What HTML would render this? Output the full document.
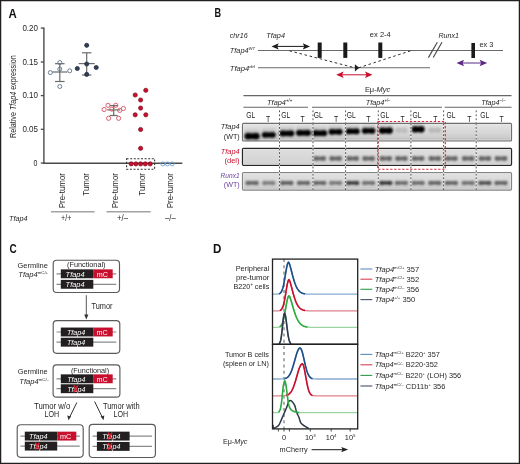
<!DOCTYPE html>
<html><head><meta charset="utf-8"><style>
html,body{margin:0;padding:0;background:#fff;}
svg{display:block;font-family:"Liberation Sans", sans-serif;will-change:transform;}
</style></head><body>
<svg width="520" height="464" viewBox="0 0 520 464" font-family='"Liberation Sans", sans-serif'>
<rect width="520" height="464" fill="#fff"/>
<text x="8.6" y="17.6" font-size="12" text-anchor="start" fill="#111" font-weight="bold" textLength="8.3" lengthAdjust="spacingAndGlyphs">A</text>
<line x1="43.9" y1="27.4" x2="43.9" y2="163.9" stroke="#4a4a4a" stroke-width="1.4"/>
<line x1="43.2" y1="163.3" x2="182.3" y2="163.3" stroke="#4a4a4a" stroke-width="1.6"/>
<line x1="40.8" y1="28.1" x2="43.9" y2="28.1" stroke="#4a4a4a" stroke-width="1.3"/>
<text x="38.0" y="30.6" font-size="8.4" text-anchor="end" fill="#262626" textLength="15.6" lengthAdjust="spacingAndGlyphs">0.20</text>
<line x1="40.8" y1="62.0" x2="43.9" y2="62.0" stroke="#4a4a4a" stroke-width="1.3"/>
<text x="38.0" y="64.5" font-size="8.4" text-anchor="end" fill="#262626" textLength="15.6" lengthAdjust="spacingAndGlyphs">0.15</text>
<line x1="40.8" y1="95.6" x2="43.9" y2="95.6" stroke="#4a4a4a" stroke-width="1.3"/>
<text x="38.0" y="98.1" font-size="8.4" text-anchor="end" fill="#262626" textLength="15.6" lengthAdjust="spacingAndGlyphs">0.10</text>
<line x1="40.8" y1="129.3" x2="43.9" y2="129.3" stroke="#4a4a4a" stroke-width="1.3"/>
<text x="38.0" y="131.8" font-size="8.4" text-anchor="end" fill="#262626" textLength="15.6" lengthAdjust="spacingAndGlyphs">0.05</text>
<line x1="40.8" y1="163.0" x2="43.9" y2="163.0" stroke="#4a4a4a" stroke-width="1.3"/>
<text x="37.3" y="165.5" font-size="8.4" text-anchor="end" fill="#262626" textLength="3.9" lengthAdjust="spacingAndGlyphs">0</text>
<text transform="translate(16.4,96.6) rotate(-90)" font-size="9.4" text-anchor="middle" fill="#262626" textLength="82.6" lengthAdjust="spacingAndGlyphs">Relative <tspan font-style="italic">Tfap4</tspan> expression</text>
<text transform="translate(65.4,173.0) rotate(-90)" font-size="8.6" text-anchor="end" fill="#262626" textLength="35.3" lengthAdjust="spacingAndGlyphs">Pre-tumor</text>
<text transform="translate(89.3,173.0) rotate(-90)" font-size="8.6" text-anchor="end" fill="#262626" textLength="22.7" lengthAdjust="spacingAndGlyphs">Tumor</text>
<text transform="translate(117.7,173.0) rotate(-90)" font-size="8.6" text-anchor="end" fill="#262626" textLength="35.3" lengthAdjust="spacingAndGlyphs">Pre-tumor</text>
<text transform="translate(144.7,173.0) rotate(-90)" font-size="8.6" text-anchor="end" fill="#262626" textLength="22.7" lengthAdjust="spacingAndGlyphs">Tumor</text>
<text transform="translate(173.3,173.0) rotate(-90)" font-size="8.6" text-anchor="end" fill="#262626" textLength="35.3" lengthAdjust="spacingAndGlyphs">Pre-tumor</text>
<line x1="51" y1="211.8" x2="94.6" y2="211.8" stroke="#a3a3a3" stroke-width="1.5"/>
<line x1="106.5" y1="211.8" x2="150.7" y2="211.8" stroke="#a3a3a3" stroke-width="1.5"/>
<text x="61" y="221.4" font-size="9" text-anchor="start" fill="#262626" textLength="10.3" lengthAdjust="spacingAndGlyphs">+/+</text>
<text x="117" y="221.4" font-size="9" text-anchor="start" fill="#262626" textLength="11" lengthAdjust="spacingAndGlyphs">+/&#8211;</text>
<text x="165" y="221.4" font-size="9" text-anchor="start" fill="#262626" textLength="10.7" lengthAdjust="spacingAndGlyphs">&#8211;/&#8211;</text>
<text x="9" y="221.2" font-size="8" text-anchor="start" fill="#262626" font-style="italic" textLength="18.6" lengthAdjust="spacingAndGlyphs">Tfap4</text>
<line x1="59.8" y1="63.7" x2="59.8" y2="81.5" stroke="#6b6b6b" stroke-width="1.2"/>
<line x1="55.0" y1="63.7" x2="64.6" y2="63.7" stroke="#6b6b6b" stroke-width="1.2"/>
<line x1="55.0" y1="81.5" x2="64.6" y2="81.5" stroke="#6b6b6b" stroke-width="1.2"/>
<line x1="52.3" y1="72.0" x2="67.3" y2="72.0" stroke="#6b6b6b" stroke-width="1.2"/>
<circle cx="59.8" cy="62.5" r="2.0" fill="none" stroke="#5d7089" stroke-width="0.9"/>
<circle cx="59.8" cy="69.1" r="2.0" fill="none" stroke="#5d7089" stroke-width="0.9"/>
<circle cx="50.3" cy="72.6" r="2.0" fill="none" stroke="#5d7089" stroke-width="0.9"/>
<circle cx="69.7" cy="70.8" r="2.0" fill="none" stroke="#5d7089" stroke-width="0.9"/>
<circle cx="59.8" cy="86.5" r="2.0" fill="none" stroke="#5d7089" stroke-width="0.9"/>
<line x1="86.7" y1="52.8" x2="86.7" y2="75.0" stroke="#6b6b6b" stroke-width="1.2"/>
<line x1="81.95" y1="52.8" x2="91.45" y2="52.8" stroke="#6b6b6b" stroke-width="1.2"/>
<line x1="81.95" y1="75.0" x2="91.45" y2="75.0" stroke="#6b6b6b" stroke-width="1.2"/>
<line x1="78.7" y1="63.6" x2="94.7" y2="63.6" stroke="#6b6b6b" stroke-width="1.2"/>
<circle cx="86.7" cy="45.3" r="2.1" fill="#2f3f57" stroke="#1c2636" stroke-width="0.7"/>
<circle cx="86.7" cy="64.0" r="2.1" fill="#2f3f57" stroke="#1c2636" stroke-width="0.7"/>
<circle cx="77.3" cy="68.5" r="2.1" fill="#2f3f57" stroke="#1c2636" stroke-width="0.7"/>
<circle cx="96.2" cy="67.5" r="2.1" fill="#2f3f57" stroke="#1c2636" stroke-width="0.7"/>
<circle cx="86.7" cy="74.4" r="2.1" fill="#2f3f57" stroke="#1c2636" stroke-width="0.7"/>
<line x1="113.7" y1="105.6" x2="113.7" y2="115.5" stroke="#6b6b6b" stroke-width="1.2"/>
<line x1="109.7" y1="105.6" x2="117.7" y2="105.6" stroke="#6b6b6b" stroke-width="1.2"/>
<line x1="109.7" y1="115.5" x2="117.7" y2="115.5" stroke="#6b6b6b" stroke-width="1.2"/>
<line x1="107.2" y1="109.9" x2="120.2" y2="109.9" stroke="#6b6b6b" stroke-width="1.2"/>
<circle cx="108" cy="105.3" r="2.1" fill="none" stroke="#d9505e" stroke-width="0.9"/>
<circle cx="115.8" cy="105.3" r="2.1" fill="none" stroke="#d9505e" stroke-width="0.9"/>
<circle cx="104.1" cy="109.5" r="2.1" fill="none" stroke="#d9505e" stroke-width="0.9"/>
<circle cx="111.8" cy="109.1" r="2.1" fill="none" stroke="#d9505e" stroke-width="0.9"/>
<circle cx="119.7" cy="110.4" r="2.1" fill="none" stroke="#d9505e" stroke-width="0.9"/>
<circle cx="123.4" cy="108.5" r="2.1" fill="none" stroke="#d9505e" stroke-width="0.9"/>
<circle cx="108.6" cy="118.3" r="2.1" fill="none" stroke="#d9505e" stroke-width="0.9"/>
<circle cx="118.6" cy="118.3" r="2.1" fill="none" stroke="#d9505e" stroke-width="0.9"/>
<circle cx="145.8" cy="90.3" r="2.1" fill="#c8102e" stroke="#7d0a1c" stroke-width="0.7"/>
<circle cx="135.2" cy="95" r="2.1" fill="#c8102e" stroke="#7d0a1c" stroke-width="0.7"/>
<circle cx="140.6" cy="100" r="2.1" fill="#c8102e" stroke="#7d0a1c" stroke-width="0.7"/>
<circle cx="140.6" cy="108.1" r="2.1" fill="#c8102e" stroke="#7d0a1c" stroke-width="0.7"/>
<circle cx="135.2" cy="114.8" r="2.1" fill="#c8102e" stroke="#7d0a1c" stroke-width="0.7"/>
<circle cx="145.8" cy="114.8" r="2.1" fill="#c8102e" stroke="#7d0a1c" stroke-width="0.7"/>
<circle cx="140.6" cy="129.5" r="2.1" fill="#c8102e" stroke="#7d0a1c" stroke-width="0.7"/>
<circle cx="140.6" cy="148.3" r="2.1" fill="#c8102e" stroke="#7d0a1c" stroke-width="0.7"/>
<circle cx="131.2" cy="163.9" r="2.1" fill="#c8102e" stroke="#7d0a1c" stroke-width="0.7"/>
<circle cx="135.9" cy="163.9" r="2.1" fill="#c8102e" stroke="#7d0a1c" stroke-width="0.7"/>
<circle cx="140.6" cy="163.9" r="2.1" fill="#c8102e" stroke="#7d0a1c" stroke-width="0.7"/>
<circle cx="145.3" cy="163.9" r="2.1" fill="#c8102e" stroke="#7d0a1c" stroke-width="0.7"/>
<circle cx="150.2" cy="163.9" r="2.1" fill="#c8102e" stroke="#7d0a1c" stroke-width="0.7"/>
<rect x="126.6" y="158.7" width="28" height="10.5" fill="none" stroke="#333" stroke-width="1.1" stroke-dasharray="2,1.6"/>
<circle cx="162.8" cy="163.9" r="2.0" fill="none" stroke="#6b9fd1" stroke-width="0.9"/>
<circle cx="167.4" cy="163.9" r="2.0" fill="none" stroke="#6b9fd1" stroke-width="0.9"/>
<circle cx="172.2" cy="163.9" r="2.0" fill="none" stroke="#6b9fd1" stroke-width="0.9"/>
<text x="214.6" y="17.4" font-size="12" text-anchor="start" fill="#111" font-weight="bold" textLength="6.6" lengthAdjust="spacingAndGlyphs">B</text>
<text x="229.8" y="37.6" font-size="7.3" text-anchor="start" fill="#262626" font-style="italic" textLength="17.9" lengthAdjust="spacingAndGlyphs">chr16</text>
<text x="266.3" y="37.6" font-size="7.3" text-anchor="start" fill="#262626" font-style="italic" textLength="18.7" lengthAdjust="spacingAndGlyphs">Tfap4</text>
<text x="229.8" y="52.6" font-size="7.6" font-style="italic" fill="#262626" textLength="25.4" lengthAdjust="spacingAndGlyphs">Tfap4<tspan font-size="4.4" dy="-2.9">WT</tspan></text>
<text x="229.8" y="70.8" font-size="7.6" font-style="italic" fill="#262626" textLength="25.2" lengthAdjust="spacingAndGlyphs">Tfap4<tspan font-size="4.4" dy="-2.9">del</tspan></text>
<line x1="258" y1="50.5" x2="503" y2="50.5" stroke="#6a6a6a" stroke-width="1.1"/>
<line x1="258" y1="67.8" x2="430" y2="67.8" stroke="#6a6a6a" stroke-width="1.1"/>
<line x1="428.4" y1="57.6" x2="437.3" y2="42.3" stroke="#444" stroke-width="1.1"/>
<line x1="433.2" y1="57.6" x2="442.0" y2="42.3" stroke="#444" stroke-width="1.1"/>
<rect x="317.7" y="42.5" width="4" height="15.4" fill="#1a1a1a" stroke="none" stroke-width="1"/>
<rect x="343.3" y="42.5" width="4" height="15.4" fill="#1a1a1a" stroke="none" stroke-width="1"/>
<rect x="378.3" y="42.5" width="4" height="15.4" fill="#1a1a1a" stroke="none" stroke-width="1"/>
<rect x="471.4" y="43" width="3.6" height="15" fill="#1a1a1a" stroke="none" stroke-width="1"/>
<line x1="273.5" y1="46.4" x2="308.0" y2="46.4" stroke="#1a1a1a" stroke-width="1.0"/>
<path d="M271.5,46.4 L278.7,43.3 L277.26,46.4 L278.7,49.5 Z" fill="#1a1a1a"/>
<path d="M310.0,46.4 L302.8,43.3 L304.24,46.4 L302.8,49.5 Z" fill="#1a1a1a"/>
<line x1="338.2" y1="74.8" x2="370.4" y2="74.8" stroke="#c8102e" stroke-width="1.0"/>
<path d="M336.2,74.8 L343.59999999999997,71.6 L342.12,74.8 L343.59999999999997,78.0 Z" fill="#c8102e"/>
<path d="M372.4,74.8 L365.0,71.6 L366.47999999999996,74.8 L365.0,78.0 Z" fill="#c8102e"/>
<line x1="458.5" y1="63" x2="485.2" y2="63" stroke="#5b2a86" stroke-width="1.0"/>
<path d="M456.5,63 L464.1,59.7 L462.58,63 L464.1,66.3 Z" fill="#5b2a86"/>
<path d="M487.2,63 L479.59999999999997,59.7 L481.12,63 L479.59999999999997,66.3 Z" fill="#5b2a86"/>
<line x1="289.4" y1="50.8" x2="354.9" y2="67.8" stroke="#333" stroke-width="1.0" stroke-dasharray="2.6,2.6"/>
<line x1="358.6" y1="67.8" x2="410.6" y2="50.8" stroke="#333" stroke-width="1.0" stroke-dasharray="2.6,2.6"/>
<path d="M354.9,64.2 L359.3,67.8 L354.9,71.4 Z" fill="#222"/>
<text x="369.8" y="37.2" font-size="7.3" text-anchor="start" fill="#262626" textLength="21" lengthAdjust="spacingAndGlyphs">ex 2-4</text>
<text x="438.5" y="38.2" font-size="7.4" text-anchor="start" fill="#262626" font-style="italic" textLength="20.5" lengthAdjust="spacingAndGlyphs">Runx1</text>
<text x="479.4" y="46.5" font-size="7.3" text-anchor="start" fill="#262626" textLength="13.8" lengthAdjust="spacingAndGlyphs">ex 3</text>
<text x="364.9" y="92.2" font-size="7.4" text-anchor="start" fill="#262626" textLength="25.4" lengthAdjust="spacingAndGlyphs">E&#956;-<tspan font-style="italic">Myc</tspan></text>
<line x1="243.4" y1="95.6" x2="511.5" y2="95.6" stroke="#666" stroke-width="1.1"/>
<text x="267.1" y="104.6" font-size="7.8" font-style="italic" fill="#262626" textLength="25.2" lengthAdjust="spacingAndGlyphs">Tfap4<tspan font-size="4.6" dy="-3" font-style="normal">+/+</tspan></text>
<text x="365.8" y="104.6" font-size="7.8" font-style="italic" fill="#262626" textLength="24.7" lengthAdjust="spacingAndGlyphs">Tfap4<tspan font-size="4.6" dy="-3" font-style="normal">+/&#8211;</tspan></text>
<text x="481.2" y="104.6" font-size="7.8" font-style="italic" fill="#262626" textLength="24.3" lengthAdjust="spacingAndGlyphs">Tfap4<tspan font-size="4.6" dy="-3" font-style="normal">&#8211;/&#8211;</tspan></text>
<line x1="243.4" y1="107.2" x2="308" y2="107.2" stroke="#666" stroke-width="1.1"/>
<line x1="312" y1="107.2" x2="442" y2="107.2" stroke="#666" stroke-width="1.1"/>
<line x1="444.7" y1="107.2" x2="511.5" y2="107.2" stroke="#666" stroke-width="1.1"/>
<text x="246.2" y="118.4" font-size="9.0" text-anchor="start" fill="#262626" textLength="9.0" lengthAdjust="spacingAndGlyphs">GL</text>
<text x="281.2" y="118.4" font-size="9.0" text-anchor="start" fill="#262626" textLength="9.0" lengthAdjust="spacingAndGlyphs">GL</text>
<text x="313.8" y="118.4" font-size="9.0" text-anchor="start" fill="#262626" textLength="9.0" lengthAdjust="spacingAndGlyphs">GL</text>
<text x="346.7" y="118.4" font-size="9.0" text-anchor="start" fill="#262626" textLength="9.0" lengthAdjust="spacingAndGlyphs">GL</text>
<text x="380.2" y="118.4" font-size="9.0" text-anchor="start" fill="#262626" textLength="9.0" lengthAdjust="spacingAndGlyphs">GL</text>
<text x="412.5" y="118.4" font-size="9.0" text-anchor="start" fill="#262626" textLength="9.0" lengthAdjust="spacingAndGlyphs">GL</text>
<text x="446.5" y="118.4" font-size="9.0" text-anchor="start" fill="#262626" textLength="9.0" lengthAdjust="spacingAndGlyphs">GL</text>
<text x="480.2" y="118.4" font-size="9.0" text-anchor="start" fill="#262626" textLength="9.0" lengthAdjust="spacingAndGlyphs">GL</text>
<text x="266" y="121.6" font-size="8.6" text-anchor="start" fill="#262626" textLength="4.2" lengthAdjust="spacingAndGlyphs">T</text>
<text x="300.5" y="121.6" font-size="8.6" text-anchor="start" fill="#262626" textLength="4.2" lengthAdjust="spacingAndGlyphs">T</text>
<text x="334" y="121.6" font-size="8.6" text-anchor="start" fill="#262626" textLength="4.2" lengthAdjust="spacingAndGlyphs">T</text>
<text x="366.3" y="121.6" font-size="8.6" text-anchor="start" fill="#262626" textLength="4.2" lengthAdjust="spacingAndGlyphs">T</text>
<text x="400.4" y="121.6" font-size="8.6" text-anchor="start" fill="#262626" textLength="4.2" lengthAdjust="spacingAndGlyphs">T</text>
<text x="433.3" y="121.6" font-size="8.6" text-anchor="start" fill="#262626" textLength="4.2" lengthAdjust="spacingAndGlyphs">T</text>
<text x="467.2" y="121.6" font-size="8.6" text-anchor="start" fill="#262626" textLength="4.2" lengthAdjust="spacingAndGlyphs">T</text>
<text x="499.6" y="121.6" font-size="8.6" text-anchor="start" fill="#262626" textLength="4.2" lengthAdjust="spacingAndGlyphs">T</text>
<defs>
<linearGradient id="gg1" x1="0" y1="0" x2="0" y2="1">
<stop offset="0" stop-color="#e4e4e4"/><stop offset="0.55" stop-color="#d6d6d6"/><stop offset="0.82" stop-color="#cbcbcb"/><stop offset="1" stop-color="#a9a9a9"/></linearGradient>
<linearGradient id="gg2" x1="0" y1="0" x2="0" y2="1">
<stop offset="0" stop-color="#dedede"/><stop offset="0.85" stop-color="#d4d4d4"/><stop offset="1" stop-color="#c4c4c4"/></linearGradient>
<linearGradient id="gg3" x1="0" y1="0" x2="0" y2="1">
<stop offset="0" stop-color="#e2e2e2"/><stop offset="0.8" stop-color="#d2d2d2"/><stop offset="1" stop-color="#b4b4b4"/></linearGradient>
<filter id="bl" x="-50%" y="-100%" width="200%" height="300%"><feGaussianBlur stdDeviation="0.75"/></filter>
<filter id="bl2" x="-50%" y="-100%" width="200%" height="300%"><feGaussianBlur stdDeviation="0.9"/></filter>
<filter id="bl3" x="-50%" y="-100%" width="200%" height="300%"><feGaussianBlur stdDeviation="1.6"/></filter>
<filter id="bl4" x="-50%" y="-100%" width="200%" height="300%"><feGaussianBlur stdDeviation="0.85"/></filter>
<linearGradient id="sm" x1="0" y1="0" x2="0" y2="1"><stop offset="0" stop-color="#000" stop-opacity="0"/><stop offset="1" stop-color="#000" stop-opacity="0.22"/></linearGradient>
</defs>
<rect x="242.5" y="123.4" width="269.0" height="17.599999999999994" fill="url(#gg1)" stroke="#6e6e6e" stroke-width="1.2" rx="1"/>
<rect x="243.6" y="124.5" width="266.8" height="15.399999999999995" fill="none" stroke="#ececec" stroke-width="0.6"/>
<rect x="242.5" y="148.4" width="269.0" height="16.900000000000006" fill="url(#gg2)" stroke="#262626" stroke-width="1.3" rx="1"/>
<rect x="243.6" y="149.5" width="266.8" height="14.700000000000006" fill="none" stroke="#ececec" stroke-width="0.6"/>
<rect x="242.5" y="172.6" width="269.0" height="17.5" fill="url(#gg3)" stroke="#848484" stroke-width="1.2" rx="1"/>
<rect x="243.6" y="173.7" width="266.8" height="15.3" fill="none" stroke="#ececec" stroke-width="0.6"/>
<rect x="244.85" y="127.80000000000001" width="14.5" height="8.5" fill="url(#sm)" filter="url(#bl2)"/>
<g opacity="1.0" filter="url(#bl4)" fill="#000"><rect x="247.41" y="133.42000000000002" width="9.379999999999999" height="5.760000000000001"/><ellipse cx="248.04999999999998" cy="136.3" rx="3.5200000000000005" ry="3.2"/><ellipse cx="256.15000000000003" cy="136.3" rx="3.5200000000000005" ry="3.2"/></g>
<rect x="262.05" y="126.5" width="13.5" height="8.5" fill="url(#sm)" filter="url(#bl2)"/>
<g opacity="1.0" filter="url(#bl4)" fill="#000"><rect x="264.29" y="132.48" width="9.02" height="5.04"/><ellipse cx="264.85" cy="135.0" rx="3.08" ry="2.8"/><ellipse cx="272.75" cy="135.0" rx="3.08" ry="2.8"/></g>
<rect x="279.55" y="125.0" width="14.5" height="8.5" fill="url(#sm)" filter="url(#bl2)"/>
<g opacity="1.0" filter="url(#bl4)" fill="#000"><rect x="281.95" y="130.8" width="9.7" height="5.4"/><ellipse cx="282.55" cy="133.5" rx="3.3000000000000003" ry="3.0"/><ellipse cx="291.05" cy="133.5" rx="3.3000000000000003" ry="3.0"/></g>
<rect x="296.25" y="124.5" width="14.5" height="8.5" fill="url(#sm)" filter="url(#bl2)"/>
<g opacity="1.0" filter="url(#bl4)" fill="#000"><rect x="298.65" y="130.3" width="9.7" height="5.4"/><ellipse cx="299.25" cy="133.0" rx="3.3000000000000003" ry="3.0"/><ellipse cx="307.75" cy="133.0" rx="3.3000000000000003" ry="3.0"/></g>
<rect x="312.45" y="124.80000000000001" width="14.5" height="8.5" fill="url(#sm)" filter="url(#bl2)"/>
<g opacity="1.0" filter="url(#bl4)" fill="#000"><rect x="314.84999999999997" y="130.60000000000002" width="9.7" height="5.4"/><ellipse cx="315.45" cy="133.3" rx="3.3000000000000003" ry="3.0"/><ellipse cx="323.95" cy="133.3" rx="3.3000000000000003" ry="3.0"/></g>
<rect x="328.85" y="123.4" width="13.5" height="8.5" fill="url(#sm)" filter="url(#bl2)"/>
<g opacity="1.0" filter="url(#bl4)" fill="#000"><rect x="331.09000000000003" y="129.38" width="9.02" height="5.04"/><ellipse cx="331.65000000000003" cy="131.9" rx="3.08" ry="2.8"/><ellipse cx="339.55" cy="131.9" rx="3.08" ry="2.8"/></g>
<rect x="345.95" y="122.9" width="13.5" height="8.5" fill="url(#sm)" filter="url(#bl2)"/>
<g opacity="1.0" filter="url(#bl4)" fill="#000"><rect x="348.27" y="128.79" width="8.86" height="5.220000000000001"/><ellipse cx="348.84999999999997" cy="131.4" rx="3.190000000000001" ry="2.9000000000000004"/><ellipse cx="356.55" cy="131.4" rx="3.190000000000001" ry="2.9000000000000004"/></g>
<rect x="362.1" y="122.4" width="13" height="8.5" fill="url(#sm)" filter="url(#bl2)"/>
<g opacity="1.0" filter="url(#bl4)" fill="#000"><rect x="364.34000000000003" y="128.38" width="8.52" height="5.04"/><ellipse cx="364.90000000000003" cy="130.9" rx="3.08" ry="2.8"/><ellipse cx="372.3" cy="130.9" rx="3.08" ry="2.8"/></g>
<rect x="379.05" y="122.19999999999999" width="13.5" height="8.5" fill="url(#sm)" filter="url(#bl2)"/>
<g opacity="1.0" filter="url(#bl4)" fill="#000"><rect x="381.53000000000003" y="127.90999999999998" width="8.54" height="5.579999999999999"/><ellipse cx="382.15000000000003" cy="130.7" rx="3.4099999999999997" ry="3.0999999999999996"/><ellipse cx="389.45" cy="130.7" rx="3.4099999999999997" ry="3.0999999999999996"/></g>
<g opacity="0.16000000000000003" filter="url(#bl2)" fill="#333"><rect x="397.7" y="128.2" width="7.3999999999999995" height="4.0"/><ellipse cx="398.275" cy="130.2" rx="3.1625" ry="2.875"/><ellipse cx="404.525" cy="130.2" rx="3.1625" ry="2.875"/></g>
<rect x="411.85" y="120.9" width="12.5" height="8.5" fill="url(#sm)" filter="url(#bl2)"/>
<g opacity="1.0" filter="url(#bl4)" fill="#000"><rect x="414.33000000000004" y="126.61" width="7.54" height="5.579999999999999"/><ellipse cx="414.95000000000005" cy="129.4" rx="3.4099999999999997" ry="3.0999999999999996"/><ellipse cx="421.25" cy="129.4" rx="3.4099999999999997" ry="3.0999999999999996"/></g>
<g opacity="0.192" filter="url(#bl2)" fill="#333"><rect x="431.1" y="128.0" width="7.3999999999999995" height="4.0"/><ellipse cx="431.675" cy="130.0" rx="3.1625" ry="2.875"/><ellipse cx="437.925" cy="130.0" rx="3.1625" ry="2.875"/></g>
<g opacity="0.72" filter="url(#bl2)" fill="#3a3a3a"><rect x="315.53599999999994" y="156.63" width="8.328" height="3.74"/><ellipse cx="316.02" cy="158.5" rx="2.662000000000001" ry="2.4200000000000004"/><ellipse cx="323.38" cy="158.5" rx="2.662000000000001" ry="2.4200000000000004"/></g>
<g opacity="0.72" filter="url(#bl2)" fill="#3a3a3a"><rect x="331.436" y="156.63" width="8.328" height="3.74"/><ellipse cx="331.92" cy="158.5" rx="2.662000000000001" ry="2.4200000000000004"/><ellipse cx="339.28000000000003" cy="158.5" rx="2.662000000000001" ry="2.4200000000000004"/></g>
<g opacity="0.72" filter="url(#bl2)" fill="#3a3a3a"><rect x="348.53599999999994" y="156.63" width="8.328" height="3.74"/><ellipse cx="349.02" cy="158.5" rx="2.662000000000001" ry="2.4200000000000004"/><ellipse cx="356.38" cy="158.5" rx="2.662000000000001" ry="2.4200000000000004"/></g>
<g opacity="0.72" filter="url(#bl2)" fill="#3a3a3a"><rect x="364.436" y="156.63" width="8.328" height="3.74"/><ellipse cx="364.92" cy="158.5" rx="2.662000000000001" ry="2.4200000000000004"/><ellipse cx="372.28000000000003" cy="158.5" rx="2.662000000000001" ry="2.4200000000000004"/></g>
<g opacity="0.72" filter="url(#bl2)" fill="#3a3a3a"><rect x="381.63599999999997" y="156.63" width="8.328" height="3.74"/><ellipse cx="382.12" cy="158.5" rx="2.662000000000001" ry="2.4200000000000004"/><ellipse cx="389.48" cy="158.5" rx="2.662000000000001" ry="2.4200000000000004"/></g>
<g opacity="0.72" filter="url(#bl2)" fill="#3a3a3a"><rect x="397.23599999999993" y="156.63" width="8.328" height="3.74"/><ellipse cx="397.71999999999997" cy="158.5" rx="2.662000000000001" ry="2.4200000000000004"/><ellipse cx="405.08" cy="158.5" rx="2.662000000000001" ry="2.4200000000000004"/></g>
<g opacity="0.72" filter="url(#bl2)" fill="#3a3a3a"><rect x="413.936" y="156.63" width="8.328" height="3.74"/><ellipse cx="414.42" cy="158.5" rx="2.662000000000001" ry="2.4200000000000004"/><ellipse cx="421.78000000000003" cy="158.5" rx="2.662000000000001" ry="2.4200000000000004"/></g>
<g opacity="0.72" filter="url(#bl2)" fill="#3a3a3a"><rect x="430.63599999999997" y="156.63" width="8.328" height="3.74"/><ellipse cx="431.12" cy="158.5" rx="2.662000000000001" ry="2.4200000000000004"/><ellipse cx="438.48" cy="158.5" rx="2.662000000000001" ry="2.4200000000000004"/></g>
<g opacity="0.72" filter="url(#bl2)" fill="#3a3a3a"><rect x="447.23599999999993" y="156.63" width="8.328" height="3.74"/><ellipse cx="447.71999999999997" cy="158.5" rx="2.662000000000001" ry="2.4200000000000004"/><ellipse cx="455.08" cy="158.5" rx="2.662000000000001" ry="2.4200000000000004"/></g>
<g opacity="0.72" filter="url(#bl2)" fill="#3a3a3a"><rect x="464.03599999999994" y="156.63" width="8.328" height="3.74"/><ellipse cx="464.52" cy="158.5" rx="2.662000000000001" ry="2.4200000000000004"/><ellipse cx="471.88" cy="158.5" rx="2.662000000000001" ry="2.4200000000000004"/></g>
<g opacity="0.72" filter="url(#bl2)" fill="#3a3a3a"><rect x="480.73599999999993" y="156.63" width="8.328" height="3.74"/><ellipse cx="481.21999999999997" cy="158.5" rx="2.662000000000001" ry="2.4200000000000004"/><ellipse cx="488.58" cy="158.5" rx="2.662000000000001" ry="2.4200000000000004"/></g>
<g opacity="0.72" filter="url(#bl2)" fill="#3a3a3a"><rect x="496.83599999999996" y="156.63" width="8.328" height="3.74"/><ellipse cx="497.32" cy="158.5" rx="2.662000000000001" ry="2.4200000000000004"/><ellipse cx="504.68" cy="158.5" rx="2.662000000000001" ry="2.4200000000000004"/></g>
<g opacity="0.62" filter="url(#bl2)" fill="#1e1e1e"><rect x="247.4144" y="181.115" width="9.3712" height="3.57"/><ellipse cx="247.868" cy="182.9" rx="2.4948000000000006" ry="2.2680000000000002"/><ellipse cx="256.33200000000005" cy="182.9" rx="2.4948000000000006" ry="2.2680000000000002"/></g>
<g opacity="0.48" filter="url(#bl2)" fill="#1e1e1e"><rect x="264.1144" y="181.115" width="9.3712" height="3.57"/><ellipse cx="264.568" cy="182.9" rx="2.4948000000000006" ry="2.2680000000000002"/><ellipse cx="273.03200000000004" cy="182.9" rx="2.4948000000000006" ry="2.2680000000000002"/></g>
<g opacity="0.65" filter="url(#bl2)" fill="#1e1e1e"><rect x="282.1144" y="181.115" width="9.3712" height="3.57"/><ellipse cx="282.568" cy="182.9" rx="2.4948000000000006" ry="2.2680000000000002"/><ellipse cx="291.03200000000004" cy="182.9" rx="2.4948000000000006" ry="2.2680000000000002"/></g>
<g opacity="0.62" filter="url(#bl2)" fill="#1e1e1e"><rect x="298.8144" y="181.115" width="9.3712" height="3.57"/><ellipse cx="299.268" cy="182.9" rx="2.4948000000000006" ry="2.2680000000000002"/><ellipse cx="307.732" cy="182.9" rx="2.4948000000000006" ry="2.2680000000000002"/></g>
<g opacity="0.62" filter="url(#bl2)" fill="#1e1e1e"><rect x="315.01439999999997" y="181.115" width="9.3712" height="3.57"/><ellipse cx="315.46799999999996" cy="182.9" rx="2.4948000000000006" ry="2.2680000000000002"/><ellipse cx="323.932" cy="182.9" rx="2.4948000000000006" ry="2.2680000000000002"/></g>
<g opacity="0.5" filter="url(#bl2)" fill="#1e1e1e"><rect x="330.9144" y="181.115" width="9.3712" height="3.57"/><ellipse cx="331.368" cy="182.9" rx="2.4948000000000006" ry="2.2680000000000002"/><ellipse cx="339.83200000000005" cy="182.9" rx="2.4948000000000006" ry="2.2680000000000002"/></g>
<g opacity="0.82" filter="url(#bl2)" fill="#1e1e1e"><rect x="348.01439999999997" y="181.115" width="9.3712" height="3.57"/><ellipse cx="348.46799999999996" cy="182.9" rx="2.4948000000000006" ry="2.2680000000000002"/><ellipse cx="356.932" cy="182.9" rx="2.4948000000000006" ry="2.2680000000000002"/></g>
<g opacity="0.55" filter="url(#bl2)" fill="#1e1e1e"><rect x="363.9144" y="181.115" width="9.3712" height="3.57"/><ellipse cx="364.368" cy="182.9" rx="2.4948000000000006" ry="2.2680000000000002"/><ellipse cx="372.83200000000005" cy="182.9" rx="2.4948000000000006" ry="2.2680000000000002"/></g>
<g opacity="0.85" filter="url(#bl2)" fill="#1e1e1e"><rect x="381.1144" y="181.115" width="9.3712" height="3.57"/><ellipse cx="381.568" cy="182.9" rx="2.4948000000000006" ry="2.2680000000000002"/><ellipse cx="390.03200000000004" cy="182.9" rx="2.4948000000000006" ry="2.2680000000000002"/></g>
<g opacity="0.58" filter="url(#bl2)" fill="#1e1e1e"><rect x="396.71439999999996" y="181.115" width="9.3712" height="3.57"/><ellipse cx="397.16799999999995" cy="182.9" rx="2.4948000000000006" ry="2.2680000000000002"/><ellipse cx="405.632" cy="182.9" rx="2.4948000000000006" ry="2.2680000000000002"/></g>
<g opacity="0.58" filter="url(#bl2)" fill="#1e1e1e"><rect x="413.4144" y="181.115" width="9.3712" height="3.57"/><ellipse cx="413.868" cy="182.9" rx="2.4948000000000006" ry="2.2680000000000002"/><ellipse cx="422.33200000000005" cy="182.9" rx="2.4948000000000006" ry="2.2680000000000002"/></g>
<g opacity="0.62" filter="url(#bl2)" fill="#1e1e1e"><rect x="430.1144" y="181.115" width="9.3712" height="3.57"/><ellipse cx="430.568" cy="182.9" rx="2.4948000000000006" ry="2.2680000000000002"/><ellipse cx="439.03200000000004" cy="182.9" rx="2.4948000000000006" ry="2.2680000000000002"/></g>
<g opacity="0.62" filter="url(#bl2)" fill="#1e1e1e"><rect x="446.71439999999996" y="181.115" width="9.3712" height="3.57"/><ellipse cx="447.16799999999995" cy="182.9" rx="2.4948000000000006" ry="2.2680000000000002"/><ellipse cx="455.632" cy="182.9" rx="2.4948000000000006" ry="2.2680000000000002"/></g>
<g opacity="0.55" filter="url(#bl2)" fill="#1e1e1e"><rect x="463.51439999999997" y="181.115" width="9.3712" height="3.57"/><ellipse cx="463.96799999999996" cy="182.9" rx="2.4948000000000006" ry="2.2680000000000002"/><ellipse cx="472.432" cy="182.9" rx="2.4948000000000006" ry="2.2680000000000002"/></g>
<g opacity="0.72" filter="url(#bl2)" fill="#1e1e1e"><rect x="480.21439999999996" y="181.115" width="9.3712" height="3.57"/><ellipse cx="480.66799999999995" cy="182.9" rx="2.4948000000000006" ry="2.2680000000000002"/><ellipse cx="489.132" cy="182.9" rx="2.4948000000000006" ry="2.2680000000000002"/></g>
<g opacity="0.62" filter="url(#bl2)" fill="#1e1e1e"><rect x="496.3144" y="181.115" width="9.3712" height="3.57"/><ellipse cx="496.768" cy="182.9" rx="2.4948000000000006" ry="2.2680000000000002"/><ellipse cx="505.232" cy="182.9" rx="2.4948000000000006" ry="2.2680000000000002"/></g>
<line x1="279.5" y1="123.4" x2="279.5" y2="190" stroke="#f4f4f4" stroke-width="0.9"/>
<line x1="279.5" y1="110.4" x2="279.5" y2="123" stroke="#555" stroke-width="1.0" stroke-dasharray="1.8,2.2"/>
<line x1="279.5" y1="123.4" x2="279.5" y2="190" stroke="#3a3a3a" stroke-width="0.85" stroke-dasharray="1.8,1.8"/>
<line x1="313.0" y1="123.4" x2="313.0" y2="190" stroke="#f4f4f4" stroke-width="0.9"/>
<line x1="313.0" y1="110.4" x2="313.0" y2="123" stroke="#555" stroke-width="1.0" stroke-dasharray="1.8,2.2"/>
<line x1="313.0" y1="123.4" x2="313.0" y2="190" stroke="#3a3a3a" stroke-width="0.85" stroke-dasharray="1.8,1.8"/>
<line x1="345.6" y1="123.4" x2="345.6" y2="190" stroke="#f4f4f4" stroke-width="0.9"/>
<line x1="345.6" y1="110.4" x2="345.6" y2="123" stroke="#555" stroke-width="1.0" stroke-dasharray="1.8,2.2"/>
<line x1="345.6" y1="123.4" x2="345.6" y2="190" stroke="#3a3a3a" stroke-width="0.85" stroke-dasharray="1.8,1.8"/>
<line x1="378.3" y1="123.4" x2="378.3" y2="190" stroke="#f4f4f4" stroke-width="0.9"/>
<line x1="378.3" y1="110.4" x2="378.3" y2="123" stroke="#555" stroke-width="1.0" stroke-dasharray="1.8,2.2"/>
<line x1="378.3" y1="123.4" x2="378.3" y2="190" stroke="#3a3a3a" stroke-width="0.85" stroke-dasharray="1.8,1.8"/>
<line x1="410.9" y1="123.4" x2="410.9" y2="190" stroke="#f4f4f4" stroke-width="0.9"/>
<line x1="410.9" y1="110.4" x2="410.9" y2="123" stroke="#555" stroke-width="1.0" stroke-dasharray="1.8,2.2"/>
<line x1="410.9" y1="123.4" x2="410.9" y2="190" stroke="#3a3a3a" stroke-width="0.85" stroke-dasharray="1.8,1.8"/>
<line x1="443.6" y1="123.4" x2="443.6" y2="190" stroke="#f4f4f4" stroke-width="0.9"/>
<line x1="443.6" y1="110.4" x2="443.6" y2="123" stroke="#555" stroke-width="1.0" stroke-dasharray="1.8,2.2"/>
<line x1="443.6" y1="123.4" x2="443.6" y2="190" stroke="#3a3a3a" stroke-width="0.85" stroke-dasharray="1.8,1.8"/>
<line x1="476.2" y1="123.4" x2="476.2" y2="190" stroke="#f4f4f4" stroke-width="0.9"/>
<line x1="476.2" y1="110.4" x2="476.2" y2="123" stroke="#555" stroke-width="1.0" stroke-dasharray="1.8,2.2"/>
<line x1="476.2" y1="123.4" x2="476.2" y2="190" stroke="#3a3a3a" stroke-width="0.85" stroke-dasharray="1.8,1.8"/>
<rect x="377.8" y="121.5" width="67.5" height="47.7" fill="none" stroke="#dc2a3a" stroke-width="1.1" stroke-dasharray="2.3,1.7"/>
<text x="239.6" y="129.2" font-size="8.0" text-anchor="end" fill="#262626" font-style="italic" textLength="18.8" lengthAdjust="spacingAndGlyphs">Tfap4</text>
<text x="239.6" y="138.6" font-size="8.0" text-anchor="end" fill="#262626" textLength="15.8" lengthAdjust="spacingAndGlyphs">(WT)</text>
<text x="239.6" y="153.9" font-size="8.0" text-anchor="end" fill="#c8102e" font-style="italic" textLength="18.8" lengthAdjust="spacingAndGlyphs">Tfap4</text>
<text x="239.6" y="162.9" font-size="8.0" text-anchor="end" fill="#c8102e" textLength="15.2" lengthAdjust="spacingAndGlyphs">(del)</text>
<text x="239.6" y="178.4" font-size="8.0" text-anchor="end" fill="#6a3d9a" font-style="italic" textLength="19.0" lengthAdjust="spacingAndGlyphs">Runx1</text>
<text x="239.6" y="187.0" font-size="8.0" text-anchor="end" fill="#6a3d9a" textLength="15.8" lengthAdjust="spacingAndGlyphs">(WT)</text>
<text x="9.6" y="253.1" font-size="12" text-anchor="start" fill="#111" font-weight="bold" textLength="7.2" lengthAdjust="spacingAndGlyphs">C</text>
<text x="17.5" y="268.2" font-size="7.6" text-anchor="start" fill="#262626" textLength="30.4" lengthAdjust="spacingAndGlyphs">Germline</text>
<text x="18.3" y="276.6" font-size="7.6" font-style="italic" fill="#262626">Tfap4<tspan font-size="4.3" dy="-2.8" font-style="normal">mC/+</tspan></text>
<rect x="53.2" y="260.2" width="66.3" height="32.30000000000001" fill="none" stroke="#5a5a5a" stroke-width="1.15" rx="3.5"/>
<text x="67" y="267.1" font-size="7.8" text-anchor="start" fill="#262626" textLength="38.5" lengthAdjust="spacingAndGlyphs">(Functional)</text>
<line x1="56.5" y1="273.8" x2="116.3" y2="273.8" stroke="#8a8a8a" stroke-width="1.2"/>
<rect x="60.8" y="269.35" width="32.8" height="8.9" fill="#231f20" stroke="none" stroke-width="1"/>
<rect x="93.6" y="269.35" width="19.10000000000001" height="8.9" fill="#c8102e" stroke="none" stroke-width="1"/>
<text x="65.6" y="276.6" font-size="7.6" font-style="italic" fill="#fff" textLength="19.0" lengthAdjust="spacingAndGlyphs">Tfap4</text>
<text x="96.8" y="276.6" font-size="8" fill="#fff" textLength="11.2" lengthAdjust="spacingAndGlyphs">mC</text>
<line x1="56.5" y1="284.3" x2="116.3" y2="284.3" stroke="#8a8a8a" stroke-width="1.2"/>
<rect x="60.8" y="279.85" width="32.5" height="8.9" fill="#231f20" stroke="none" stroke-width="1"/>
<text x="65.6" y="287.1" font-size="7.6" font-style="italic" fill="#fff" textLength="19.0" lengthAdjust="spacingAndGlyphs">Tfap4</text>
<line x1="86.3" y1="295.2" x2="86.3" y2="316" stroke="#444" stroke-width="0.9"/>
<path d="M84.2,314.5 L86.3,319.5 L88.4,314.5 Z" fill="#333"/>
<text x="91.5" y="308.9" font-size="8.2" text-anchor="start" fill="#262626" textLength="21" lengthAdjust="spacingAndGlyphs">Tumor</text>
<rect x="53.2" y="320.6" width="66.6" height="32.69999999999999" fill="none" stroke="#5a5a5a" stroke-width="1.15" rx="3.5"/>
<line x1="56.5" y1="332.0" x2="116.3" y2="332.0" stroke="#8a8a8a" stroke-width="1.2"/>
<rect x="60.8" y="327.55" width="32.8" height="8.9" fill="#231f20" stroke="none" stroke-width="1"/>
<rect x="93.6" y="327.55" width="19.10000000000001" height="8.9" fill="#c8102e" stroke="none" stroke-width="1"/>
<text x="67.0" y="334.8" font-size="7.6" font-style="italic" fill="#fff" textLength="18.3" lengthAdjust="spacingAndGlyphs">Tfap4</text>
<text x="96.5" y="334.8" font-size="8" fill="#fff" textLength="11.2" lengthAdjust="spacingAndGlyphs">mC</text>
<line x1="56.5" y1="342.2" x2="116.3" y2="342.2" stroke="#8a8a8a" stroke-width="1.2"/>
<rect x="60.8" y="337.75" width="32.5" height="8.9" fill="#231f20" stroke="none" stroke-width="1"/>
<text x="67.0" y="345.0" font-size="7.6" font-style="italic" fill="#fff" textLength="18.3" lengthAdjust="spacingAndGlyphs">Tfap4</text>
<text x="17.7" y="373.7" font-size="7.6" text-anchor="start" fill="#262626" textLength="29.9" lengthAdjust="spacingAndGlyphs">Germline</text>
<text x="19.3" y="383.6" font-size="7.6" font-style="italic" fill="#262626">Tfap4<tspan font-size="4.3" dy="-2.8" font-style="normal">mC/&#8211;</tspan></text>
<rect x="53.1" y="364.9" width="66.80000000000001" height="32.30000000000001" fill="none" stroke="#5a5a5a" stroke-width="1.15" rx="3.5"/>
<text x="70.9" y="372.6" font-size="7.8" text-anchor="start" fill="#262626" textLength="38.2" lengthAdjust="spacingAndGlyphs">(Functional)</text>
<line x1="56.5" y1="378.8" x2="116.3" y2="378.8" stroke="#8a8a8a" stroke-width="1.2"/>
<rect x="60.8" y="374.35" width="32.8" height="8.9" fill="#231f20" stroke="none" stroke-width="1"/>
<rect x="93.6" y="374.35" width="19.10000000000001" height="8.9" fill="#c8102e" stroke="none" stroke-width="1"/>
<text x="67.2" y="381.6" font-size="7.6" font-style="italic" fill="#fff" textLength="18.3" lengthAdjust="spacingAndGlyphs">Tfap4</text>
<text x="96.5" y="381.6" font-size="8" fill="#fff" textLength="11.2" lengthAdjust="spacingAndGlyphs">mC</text>
<line x1="56.5" y1="388.7" x2="116.3" y2="388.7" stroke="#8a8a8a" stroke-width="1.2"/>
<rect x="60.8" y="384.25" width="32.5" height="8.9" fill="#231f20" stroke="none" stroke-width="1"/>
<text x="67.2" y="391.5" font-size="7.6" font-style="italic" fill="#fff" textLength="18.3" lengthAdjust="spacingAndGlyphs">Tfap4</text>
<path d="M73.9,385.3 L77.9,392.09999999999997 M77.9,385.3 L73.9,392.09999999999997" stroke="#e0202f" stroke-width="1.4"/>
<line x1="76.8" y1="402.5" x2="69.5" y2="417.5" stroke="#333" stroke-width="1"/>
<path d="M67.3,415.6 L68.4,420.2 L71.2,416.5 Z" fill="#333"/>
<line x1="94.6" y1="401.5" x2="102.4" y2="417.5" stroke="#333" stroke-width="1"/>
<path d="M100.5,416.6 L103.6,420.2 L104.3,415.6 Z" fill="#333"/>
<text x="34.0" y="408.9" font-size="8.2" text-anchor="start" fill="#262626" textLength="36.3" lengthAdjust="spacingAndGlyphs">Tumor w/o</text>
<text x="44.6" y="417.2" font-size="8.2" text-anchor="start" fill="#262626" textLength="14.6" lengthAdjust="spacingAndGlyphs">LOH</text>
<text x="102.9" y="408.9" font-size="8.2" text-anchor="start" fill="#262626" textLength="36.7" lengthAdjust="spacingAndGlyphs">Tumor with</text>
<text x="113.6" y="417.2" font-size="8.2" text-anchor="start" fill="#262626" textLength="14.6" lengthAdjust="spacingAndGlyphs">LOH</text>
<rect x="17.2" y="424.7" width="66.0" height="32.60000000000002" fill="none" stroke="#5a5a5a" stroke-width="1.15" rx="3.5"/>
<line x1="20.4" y1="436.1" x2="79.8" y2="436.1" stroke="#8a8a8a" stroke-width="1.2"/>
<rect x="24.8" y="431.65000000000003" width="32.599999999999994" height="8.9" fill="#231f20" stroke="none" stroke-width="1"/>
<rect x="57.4" y="431.65000000000003" width="18.9" height="8.9" fill="#c8102e" stroke="none" stroke-width="1"/>
<text x="29.1" y="438.90000000000003" font-size="7.6" font-style="italic" fill="#fff" textLength="18.4" lengthAdjust="spacingAndGlyphs">Tfap4</text>
<text x="60.0" y="438.90000000000003" font-size="8" fill="#fff" textLength="11.2" lengthAdjust="spacingAndGlyphs">mC</text>
<line x1="20.4" y1="446.1" x2="79.8" y2="446.1" stroke="#8a8a8a" stroke-width="1.2"/>
<rect x="24.8" y="441.65000000000003" width="32.400000000000006" height="8.9" fill="#231f20" stroke="none" stroke-width="1"/>
<text x="29.1" y="448.90000000000003" font-size="7.6" font-style="italic" fill="#fff" textLength="18.4" lengthAdjust="spacingAndGlyphs">Tfap4</text>
<path d="M35.3,442.70000000000005 L39.3,449.5 M39.3,442.70000000000005 L35.3,449.5" stroke="#e0202f" stroke-width="1.4"/>
<rect x="89.2" y="424.4" width="66.2" height="33.10000000000002" fill="none" stroke="#5a5a5a" stroke-width="1.15" rx="3.5"/>
<line x1="92.5" y1="436.1" x2="152.1" y2="436.1" stroke="#8a8a8a" stroke-width="1.2"/>
<rect x="96.9" y="431.65000000000003" width="32.69999999999999" height="8.9" fill="#231f20" stroke="none" stroke-width="1"/>
<text x="102.2" y="438.90000000000003" font-size="7.6" font-style="italic" fill="#fff" textLength="18.3" lengthAdjust="spacingAndGlyphs">Tfap4</text>
<line x1="92.5" y1="446.4" x2="152.1" y2="446.4" stroke="#8a8a8a" stroke-width="1.2"/>
<rect x="96.9" y="441.95" width="32.69999999999999" height="8.9" fill="#231f20" stroke="none" stroke-width="1"/>
<text x="102.2" y="449.2" font-size="7.6" font-style="italic" fill="#fff" textLength="18.3" lengthAdjust="spacingAndGlyphs">Tfap4</text>
<path d="M108.0,432.70000000000005 L112.0,439.5 M112.0,432.70000000000005 L108.0,439.5" stroke="#e0202f" stroke-width="1.4"/>
<path d="M108.0,443.0 L112.0,449.79999999999995 M112.0,443.0 L108.0,449.79999999999995" stroke="#e0202f" stroke-width="1.4"/>
<text x="212.9" y="253.1" font-size="12" text-anchor="start" fill="#111" font-weight="bold" textLength="8.4" lengthAdjust="spacingAndGlyphs">D</text>
<text x="269.3" y="270.9" font-size="7.9" text-anchor="end" fill="#262626" textLength="33.6" lengthAdjust="spacingAndGlyphs">Peripheral</text>
<text x="269.3" y="279.6" font-size="7.9" text-anchor="end" fill="#262626" textLength="33.4" lengthAdjust="spacingAndGlyphs">pre-tumor</text>
<text x="269.3" y="288.6" font-size="7.9" text-anchor="end" fill="#262626" textLength="35.8" lengthAdjust="spacingAndGlyphs">B220<tspan font-size="4.5" dy="-2.9">+</tspan><tspan dy="2.9"> cells</tspan></text>
<text x="268.9" y="356.9" font-size="7.6" text-anchor="end" fill="#262626" textLength="44" lengthAdjust="spacingAndGlyphs">Tumor B cells</text>
<text x="268.9" y="365.8" font-size="7.6" text-anchor="end" fill="#262626" textLength="46" lengthAdjust="spacingAndGlyphs">(spleen or LN)</text>
<line x1="284.0" y1="259.1" x2="284.0" y2="428.5" stroke="#7a7a7a" stroke-width="1.25" stroke-dasharray="3,3.2"/>
<path d="M272.50,294.20 L273.00,294.20 L273.50,294.20 L274.00,294.20 L274.50,294.20 L275.00,294.20 L275.50,294.19 L276.00,294.19 L276.50,294.17 L277.00,294.16 L277.50,294.12 L278.00,294.07 L278.50,293.98 L279.00,293.84 L279.50,293.64 L280.00,293.34 L280.50,292.90 L281.00,292.29 L281.50,291.47 L282.00,290.39 L282.50,289.00 L283.00,287.28 L283.50,285.21 L284.00,282.81 L284.50,280.12 L285.00,277.20 L285.50,274.18 L286.00,271.20 L286.50,268.40 L287.00,265.96 L287.50,264.04 L288.00,262.76 L288.50,262.22 L289.00,262.74 L289.50,263.99 L290.00,265.59 L290.50,267.39 L291.00,269.30 L291.50,271.27 L292.00,273.24 L292.50,275.17 L293.00,277.04 L293.50,278.81 L294.00,280.48 L294.50,282.04 L295.00,283.47 L295.50,284.78 L296.00,285.98 L296.50,287.05 L297.00,288.01 L297.50,288.87 L298.00,289.63 L298.50,290.29 L299.00,290.87 L299.50,291.38 L300.00,291.82 L300.50,292.20 L301.00,292.52 L301.50,292.80 L302.00,293.03 L302.50,293.23 L303.00,293.40 L303.50,293.54 L304.00,293.66 L304.50,293.76 L305.00,293.84 L305.50,293.91 L306.00,293.96 L306.50,294.01 L307.00,294.04 L307.50,294.08 L308.00,294.10 L308.50,294.12 L309.00,294.14 L309.50,294.15 L310.00,294.16 L310.50,294.17 L311.00,294.18 L311.50,294.18 L312.00,294.18 L312.50,294.19 L313.00,294.19 L313.50,294.19 L314.00,294.19 L314.50,294.20 L315.00,294.20 L315.50,294.20 L316.00,294.20 L316.50,294.20 L317.00,294.20 L317.50,294.20 L318.00,294.20 L318.50,294.20 L319.00,294.20 L319.50,294.20 L320.00,294.20 L320.50,294.20 L321.00,294.20 L321.50,294.20 L322.00,294.20 L322.50,294.20 L323.00,294.20 L323.50,294.20 L324.00,294.20 L324.50,294.20 L325.00,294.20 L325.50,294.20 L326.00,294.20 L326.50,294.20 L327.00,294.20 L327.50,294.20 L328.00,294.20 L328.50,294.20 L329.00,294.20 L329.50,294.20 L330.00,294.20 L330.50,294.20 L331.00,294.20 L331.50,294.20 L332.00,294.20 L332.50,294.20 L333.00,294.20 L333.50,294.20 L334.00,294.20 L334.50,294.20 L335.00,294.20 L335.50,294.20 L336.00,294.20 L336.50,294.20 L337.00,294.20 L337.50,294.20 L338.00,294.20 L338.50,294.20 L339.00,294.20 L339.50,294.20 L340.00,294.20 L340.50,294.20 L341.00,294.20 L341.50,294.20 L342.00,294.20 L342.50,294.20 L343.00,294.20 L343.50,294.20 L344.00,294.20 L344.50,294.20 L345.00,294.20 L345.50,294.20 L346.00,294.20 L346.50,294.20 L347.00,294.20 L347.50,294.20 L348.00,294.20 L348.50,294.20 L349.00,294.20 L349.50,294.20 L350.00,294.20 L350.50,294.20 L351.00,294.20 L351.50,294.20 L352.00,294.20 L352.50,294.20 L353.00,294.20 L353.50,294.20 L354.00,294.20 L354.50,294.20 L355.00,294.20 L355.50,294.20 L356.00,294.20 L356.50,294.20 L357.00,294.20 L357.50,294.20" fill="none" stroke="#86a9cf" stroke-width="1.3"/>
<path d="M279.00,293.84 L279.50,293.64 L280.00,293.34 L280.50,292.90 L281.00,292.29 L281.50,291.47 L282.00,290.39 L282.50,289.00 L283.00,287.28 L283.50,285.21 L284.00,282.81 L284.50,280.12 L285.00,277.20 L285.50,274.18 L286.00,271.20 L286.50,268.40 L287.00,265.96 L287.50,264.04 L288.00,262.76 L288.50,262.22 L289.00,262.74 L289.50,263.99 L290.00,265.59 L290.50,267.39 L291.00,269.30 L291.50,271.27 L292.00,273.24 L292.50,275.17 L293.00,277.04 L293.50,278.81 L294.00,280.48 L294.50,282.04 L295.00,283.47 L295.50,284.78 L296.00,285.98 L296.50,287.05 L297.00,288.01 L297.50,288.87 L298.00,289.63 L298.50,290.29 L299.00,290.87 L299.50,291.38 L300.00,291.82 L300.50,292.20 L301.00,292.52 L301.50,292.80 L302.00,293.03 L302.50,293.23 L303.00,293.40 L303.50,293.54 L304.00,293.66 L304.50,293.76 L305.00,293.84" fill="none" stroke="#1d4f87" stroke-width="1.6" stroke-linejoin="round"/>
<path d="M272.50,310.90 L273.00,310.90 L273.50,310.90 L274.00,310.90 L274.50,310.90 L275.00,310.90 L275.50,310.90 L276.00,310.90 L276.50,310.89 L277.00,310.89 L277.50,310.87 L278.00,310.85 L278.50,310.82 L279.00,310.76 L279.50,310.66 L280.00,310.50 L280.50,310.26 L281.00,309.90 L281.50,309.38 L282.00,308.66 L282.50,307.68 L283.00,306.39 L283.50,304.76 L284.00,302.76 L284.50,300.39 L285.00,297.70 L285.50,294.75 L286.00,291.67 L286.50,288.60 L287.00,285.74 L287.50,283.25 L288.00,281.33 L288.50,280.12 L289.00,279.70 L289.50,280.44 L290.00,281.74 L290.50,283.34 L291.00,285.12 L291.50,287.01 L292.00,288.93 L292.50,290.85 L293.00,292.72 L293.50,294.52 L294.00,296.23 L294.50,297.84 L295.00,299.33 L295.50,300.71 L296.00,301.96 L296.50,303.10 L297.00,304.13 L297.50,305.04 L298.00,305.86 L298.50,306.58 L299.00,307.21 L299.50,307.76 L300.00,308.24 L300.50,308.66 L301.00,309.01 L301.50,309.32 L302.00,309.58 L302.50,309.80 L303.00,309.99 L303.50,310.15 L304.00,310.28 L304.50,310.39 L305.00,310.49 L305.50,310.56 L306.00,310.62 L306.50,310.68 L307.00,310.72 L307.50,310.75 L308.00,310.78 L308.50,310.81 L309.00,310.83 L309.50,310.84 L310.00,310.85 L310.50,310.86 L311.00,310.87 L311.50,310.88 L312.00,310.88 L312.50,310.89 L313.00,310.89 L313.50,310.89 L314.00,310.89 L314.50,310.89 L315.00,310.90 L315.50,310.90 L316.00,310.90 L316.50,310.90 L317.00,310.90 L317.50,310.90 L318.00,310.90 L318.50,310.90 L319.00,310.90 L319.50,310.90 L320.00,310.90 L320.50,310.90 L321.00,310.90 L321.50,310.90 L322.00,310.90 L322.50,310.90 L323.00,310.90 L323.50,310.90 L324.00,310.90 L324.50,310.90 L325.00,310.90 L325.50,310.90 L326.00,310.90 L326.50,310.90 L327.00,310.90 L327.50,310.90 L328.00,310.90 L328.50,310.90 L329.00,310.90 L329.50,310.90 L330.00,310.90 L330.50,310.90 L331.00,310.90 L331.50,310.90 L332.00,310.90 L332.50,310.90 L333.00,310.90 L333.50,310.90 L334.00,310.90 L334.50,310.90 L335.00,310.90 L335.50,310.90 L336.00,310.90 L336.50,310.90 L337.00,310.90 L337.50,310.90 L338.00,310.90 L338.50,310.90 L339.00,310.90 L339.50,310.90 L340.00,310.90 L340.50,310.90 L341.00,310.90 L341.50,310.90 L342.00,310.90 L342.50,310.90 L343.00,310.90 L343.50,310.90 L344.00,310.90 L344.50,310.90 L345.00,310.90 L345.50,310.90 L346.00,310.90 L346.50,310.90 L347.00,310.90 L347.50,310.90 L348.00,310.90 L348.50,310.90 L349.00,310.90 L349.50,310.90 L350.00,310.90 L350.50,310.90 L351.00,310.90 L351.50,310.90 L352.00,310.90 L352.50,310.90 L353.00,310.90 L353.50,310.90 L354.00,310.90 L354.50,310.90 L355.00,310.90 L355.50,310.90 L356.00,310.90 L356.50,310.90 L357.00,310.90 L357.50,310.90" fill="none" stroke="#e0808e" stroke-width="1.3"/>
<path d="M280.00,310.50 L280.50,310.26 L281.00,309.90 L281.50,309.38 L282.00,308.66 L282.50,307.68 L283.00,306.39 L283.50,304.76 L284.00,302.76 L284.50,300.39 L285.00,297.70 L285.50,294.75 L286.00,291.67 L286.50,288.60 L287.00,285.74 L287.50,283.25 L288.00,281.33 L288.50,280.12 L289.00,279.70 L289.50,280.44 L290.00,281.74 L290.50,283.34 L291.00,285.12 L291.50,287.01 L292.00,288.93 L292.50,290.85 L293.00,292.72 L293.50,294.52 L294.00,296.23 L294.50,297.84 L295.00,299.33 L295.50,300.71 L296.00,301.96 L296.50,303.10 L297.00,304.13 L297.50,305.04 L298.00,305.86 L298.50,306.58 L299.00,307.21 L299.50,307.76 L300.00,308.24 L300.50,308.66 L301.00,309.01 L301.50,309.32 L302.00,309.58 L302.50,309.80 L303.00,309.99 L303.50,310.15 L304.00,310.28 L304.50,310.39 L305.00,310.49" fill="none" stroke="#c8102e" stroke-width="1.6" stroke-linejoin="round"/>
<path d="M272.50,327.40 L273.00,327.40 L273.50,327.40 L274.00,327.40 L274.50,327.40 L275.00,327.40 L275.50,327.39 L276.00,327.39 L276.50,327.38 L277.00,327.36 L277.50,327.33 L278.00,327.28 L278.50,327.20 L279.00,327.08 L279.50,326.90 L280.00,326.63 L280.50,326.25 L281.00,325.73 L281.50,325.01 L282.00,324.07 L282.50,322.86 L283.00,321.35 L283.50,319.52 L284.00,317.37 L284.50,314.93 L285.00,312.24 L285.50,309.39 L286.00,306.50 L286.50,303.68 L287.00,301.10 L287.50,298.90 L288.00,297.22 L288.50,296.16 L289.00,295.80 L289.50,296.42 L290.00,297.52 L290.50,298.89 L291.00,300.43 L291.50,302.08 L292.00,303.79 L292.50,305.51 L293.00,307.22 L293.50,308.90 L294.00,310.52 L294.50,312.07 L295.00,313.54 L295.50,314.92 L296.00,316.21 L296.50,317.41 L297.00,318.52 L297.50,319.53 L298.00,320.45 L298.50,321.28 L299.00,322.03 L299.50,322.71 L300.00,323.31 L300.50,323.85 L301.00,324.33 L301.50,324.75 L302.00,325.12 L302.50,325.44 L303.00,325.73 L303.50,325.97 L304.00,326.18 L304.50,326.37 L305.00,326.53 L305.50,326.66 L306.00,326.78 L306.50,326.88 L307.00,326.96 L307.50,327.04 L308.00,327.10 L308.50,327.15 L309.00,327.19 L309.50,327.23 L310.00,327.26 L310.50,327.28 L311.00,327.30 L311.50,327.32 L312.00,327.33 L312.50,327.35 L313.00,327.36 L313.50,327.36 L314.00,327.37 L314.50,327.38 L315.00,327.38 L315.50,327.38 L316.00,327.39 L316.50,327.39 L317.00,327.39 L317.50,327.39 L318.00,327.40 L318.50,327.40 L319.00,327.40 L319.50,327.40 L320.00,327.40 L320.50,327.40 L321.00,327.40 L321.50,327.40 L322.00,327.40 L322.50,327.40 L323.00,327.40 L323.50,327.40 L324.00,327.40 L324.50,327.40 L325.00,327.40 L325.50,327.40 L326.00,327.40 L326.50,327.40 L327.00,327.40 L327.50,327.40 L328.00,327.40 L328.50,327.40 L329.00,327.40 L329.50,327.40 L330.00,327.40 L330.50,327.40 L331.00,327.40 L331.50,327.40 L332.00,327.40 L332.50,327.40 L333.00,327.40 L333.50,327.40 L334.00,327.40 L334.50,327.40 L335.00,327.40 L335.50,327.40 L336.00,327.40 L336.50,327.40 L337.00,327.40 L337.50,327.40 L338.00,327.40 L338.50,327.40 L339.00,327.40 L339.50,327.40 L340.00,327.40 L340.50,327.40 L341.00,327.40 L341.50,327.40 L342.00,327.40 L342.50,327.40 L343.00,327.40 L343.50,327.40 L344.00,327.40 L344.50,327.40 L345.00,327.40 L345.50,327.40 L346.00,327.40 L346.50,327.40 L347.00,327.40 L347.50,327.40 L348.00,327.40 L348.50,327.40 L349.00,327.40 L349.50,327.40 L350.00,327.40 L350.50,327.40 L351.00,327.40 L351.50,327.40 L352.00,327.40 L352.50,327.40 L353.00,327.40 L353.50,327.40 L354.00,327.40 L354.50,327.40 L355.00,327.40 L355.50,327.40 L356.00,327.40 L356.50,327.40 L357.00,327.40 L357.50,327.40" fill="none" stroke="#9ad5a0" stroke-width="1.3"/>
<path d="M279.50,326.90 L280.00,326.63 L280.50,326.25 L281.00,325.73 L281.50,325.01 L282.00,324.07 L282.50,322.86 L283.00,321.35 L283.50,319.52 L284.00,317.37 L284.50,314.93 L285.00,312.24 L285.50,309.39 L286.00,306.50 L286.50,303.68 L287.00,301.10 L287.50,298.90 L288.00,297.22 L288.50,296.16 L289.00,295.80 L289.50,296.42 L290.00,297.52 L290.50,298.89 L291.00,300.43 L291.50,302.08 L292.00,303.79 L292.50,305.51 L293.00,307.22 L293.50,308.90 L294.00,310.52 L294.50,312.07 L295.00,313.54 L295.50,314.92 L296.00,316.21 L296.50,317.41 L297.00,318.52 L297.50,319.53 L298.00,320.45 L298.50,321.28 L299.00,322.03 L299.50,322.71 L300.00,323.31 L300.50,323.85 L301.00,324.33 L301.50,324.75 L302.00,325.12 L302.50,325.44 L303.00,325.73 L303.50,325.97 L304.00,326.18 L304.50,326.37 L305.00,326.53 L305.50,326.66 L306.00,326.78 L306.50,326.88 L307.00,326.96 L307.50,327.04" fill="none" stroke="#2eab3e" stroke-width="1.6" stroke-linejoin="round"/>
<path d="M272.50,344.30 L273.00,344.30 L273.50,344.30 L274.00,344.30 L274.50,344.30 L275.00,344.30 L275.50,344.30 L276.00,344.30 L276.50,344.30 L277.00,344.29 L277.50,344.26 L278.00,344.21 L278.50,344.09 L279.00,343.83 L279.50,343.33 L280.00,342.42 L280.50,340.91 L281.00,338.60 L281.50,335.36 L282.00,331.21 L282.50,326.43 L283.00,321.53 L283.50,317.22 L284.00,314.26 L284.50,313.20 L285.00,313.93 L285.50,316.00 L286.00,319.16 L286.50,322.99 L287.00,327.07 L287.50,331.02 L288.00,334.53 L288.50,337.45 L289.00,339.71 L289.50,341.37 L290.00,342.52 L290.50,343.26 L291.00,343.73 L291.50,344.00 L292.00,344.15 L292.50,344.23 L293.00,344.27 L293.50,344.29 L294.00,344.29 L294.50,344.30 L295.00,344.30 L295.50,344.30 L296.00,344.30 L296.50,344.30 L297.00,344.30 L297.50,344.30 L298.00,344.30 L298.50,344.30 L299.00,344.30 L299.50,344.30 L300.00,344.30 L300.50,344.30 L301.00,344.30 L301.50,344.30 L302.00,344.30 L302.50,344.30 L303.00,344.30 L303.50,344.30 L304.00,344.30 L304.50,344.30 L305.00,344.30 L305.50,344.30 L306.00,344.30 L306.50,344.30 L307.00,344.30 L307.50,344.30 L308.00,344.30 L308.50,344.30 L309.00,344.30 L309.50,344.30 L310.00,344.30 L310.50,344.30 L311.00,344.30 L311.50,344.30 L312.00,344.30 L312.50,344.30 L313.00,344.30 L313.50,344.30 L314.00,344.30 L314.50,344.30 L315.00,344.30 L315.50,344.30 L316.00,344.30 L316.50,344.30 L317.00,344.30 L317.50,344.30 L318.00,344.30 L318.50,344.30 L319.00,344.30 L319.50,344.30 L320.00,344.30 L320.50,344.30 L321.00,344.30 L321.50,344.30 L322.00,344.30 L322.50,344.30 L323.00,344.30 L323.50,344.30 L324.00,344.30 L324.50,344.30 L325.00,344.30 L325.50,344.30 L326.00,344.30 L326.50,344.30 L327.00,344.30 L327.50,344.30 L328.00,344.30 L328.50,344.30 L329.00,344.30 L329.50,344.30 L330.00,344.30 L330.50,344.30 L331.00,344.30 L331.50,344.30 L332.00,344.30 L332.50,344.30 L333.00,344.30 L333.50,344.30 L334.00,344.30 L334.50,344.30 L335.00,344.30 L335.50,344.30 L336.00,344.30 L336.50,344.30 L337.00,344.30 L337.50,344.30 L338.00,344.30 L338.50,344.30 L339.00,344.30 L339.50,344.30 L340.00,344.30 L340.50,344.30 L341.00,344.30 L341.50,344.30 L342.00,344.30 L342.50,344.30 L343.00,344.30 L343.50,344.30 L344.00,344.30 L344.50,344.30 L345.00,344.30 L345.50,344.30 L346.00,344.30 L346.50,344.30 L347.00,344.30 L347.50,344.30 L348.00,344.30 L348.50,344.30 L349.00,344.30 L349.50,344.30 L350.00,344.30 L350.50,344.30 L351.00,344.30 L351.50,344.30 L352.00,344.30 L352.50,344.30 L353.00,344.30 L353.50,344.30 L354.00,344.30 L354.50,344.30 L355.00,344.30 L355.50,344.30 L356.00,344.30 L356.50,344.30 L357.00,344.30 L357.50,344.30" fill="none" stroke="#7d8696" stroke-width="1.3"/>
<path d="M279.00,343.83 L279.50,343.33 L280.00,342.42 L280.50,340.91 L281.00,338.60 L281.50,335.36 L282.00,331.21 L282.50,326.43 L283.00,321.53 L283.50,317.22 L284.00,314.26 L284.50,313.20 L285.00,313.93 L285.50,316.00 L286.00,319.16 L286.50,322.99 L287.00,327.07 L287.50,331.02 L288.00,334.53 L288.50,337.45 L289.00,339.71 L289.50,341.37 L290.00,342.52 L290.50,343.26 L291.00,343.73" fill="none" stroke="#2f3a4d" stroke-width="1.6" stroke-linejoin="round"/>
<path d="M272.50,379.00 L273.00,379.00 L273.50,379.00 L274.00,379.00 L274.50,379.00 L275.00,379.00 L275.50,379.00 L276.00,379.00 L276.50,379.00 L277.00,379.00 L277.50,379.00 L278.00,379.00 L278.50,378.99 L279.00,378.99 L279.50,378.99 L280.00,378.98 L280.50,378.97 L281.00,378.96 L281.50,378.94 L282.00,378.92 L282.50,378.89 L283.00,378.85 L283.50,378.80 L284.00,378.73 L284.50,378.64 L285.00,378.52 L285.50,378.36 L286.00,378.17 L286.50,377.93 L287.00,377.64 L287.50,377.28 L288.00,376.84 L288.50,376.31 L289.00,375.69 L289.50,374.96 L290.00,374.12 L290.50,373.16 L291.00,372.07 L291.50,370.85 L292.00,369.51 L292.50,368.04 L293.00,366.47 L293.50,364.81 L294.00,363.07 L294.50,361.28 L295.00,359.47 L295.50,357.68 L296.00,355.94 L296.50,354.28 L297.00,352.75 L297.50,351.38 L298.00,350.21 L298.50,349.26 L299.00,348.57 L299.50,348.14 L300.00,348.00 L300.50,348.22 L301.00,348.87 L301.50,349.92 L302.00,351.32 L302.50,353.03 L303.00,354.98 L303.50,357.09 L304.00,359.30 L304.50,361.54 L305.00,363.74 L305.50,365.85 L306.00,367.83 L306.50,369.64 L307.00,371.27 L307.50,372.71 L308.00,373.95 L308.50,375.00 L309.00,375.88 L309.50,376.60 L310.00,377.18 L310.50,377.64 L311.00,378.00 L311.50,378.27 L312.00,378.48 L312.50,378.63 L313.00,378.74 L313.50,378.82 L314.00,378.88 L314.50,378.92 L315.00,378.95 L315.50,378.97 L316.00,378.98 L316.50,378.99 L317.00,378.99 L317.50,378.99 L318.00,379.00 L318.50,379.00 L319.00,379.00 L319.50,379.00 L320.00,379.00 L320.50,379.00 L321.00,379.00 L321.50,379.00 L322.00,379.00 L322.50,379.00 L323.00,379.00 L323.50,379.00 L324.00,379.00 L324.50,379.00 L325.00,379.00 L325.50,379.00 L326.00,379.00 L326.50,379.00 L327.00,379.00 L327.50,379.00 L328.00,379.00 L328.50,379.00 L329.00,379.00 L329.50,379.00 L330.00,379.00 L330.50,379.00 L331.00,379.00 L331.50,379.00 L332.00,379.00 L332.50,379.00 L333.00,379.00 L333.50,379.00 L334.00,379.00 L334.50,379.00 L335.00,379.00 L335.50,379.00 L336.00,379.00 L336.50,379.00 L337.00,379.00 L337.50,379.00 L338.00,379.00 L338.50,379.00 L339.00,379.00 L339.50,379.00 L340.00,379.00 L340.50,379.00 L341.00,379.00 L341.50,379.00 L342.00,379.00 L342.50,379.00 L343.00,379.00 L343.50,379.00 L344.00,379.00 L344.50,379.00 L345.00,379.00 L345.50,379.00 L346.00,379.00 L346.50,379.00 L347.00,379.00 L347.50,379.00 L348.00,379.00 L348.50,379.00 L349.00,379.00 L349.50,379.00 L350.00,379.00 L350.50,379.00 L351.00,379.00 L351.50,379.00 L352.00,379.00 L352.50,379.00 L353.00,379.00 L353.50,379.00 L354.00,379.00 L354.50,379.00 L355.00,379.00 L355.50,379.00 L356.00,379.00 L356.50,379.00 L357.00,379.00 L357.50,379.00" fill="none" stroke="#86a9cf" stroke-width="1.3"/>
<path d="M284.50,378.64 L285.00,378.52 L285.50,378.36 L286.00,378.17 L286.50,377.93 L287.00,377.64 L287.50,377.28 L288.00,376.84 L288.50,376.31 L289.00,375.69 L289.50,374.96 L290.00,374.12 L290.50,373.16 L291.00,372.07 L291.50,370.85 L292.00,369.51 L292.50,368.04 L293.00,366.47 L293.50,364.81 L294.00,363.07 L294.50,361.28 L295.00,359.47 L295.50,357.68 L296.00,355.94 L296.50,354.28 L297.00,352.75 L297.50,351.38 L298.00,350.21 L298.50,349.26 L299.00,348.57 L299.50,348.14 L300.00,348.00 L300.50,348.22 L301.00,348.87 L301.50,349.92 L302.00,351.32 L302.50,353.03 L303.00,354.98 L303.50,357.09 L304.00,359.30 L304.50,361.54 L305.00,363.74 L305.50,365.85 L306.00,367.83 L306.50,369.64 L307.00,371.27 L307.50,372.71 L308.00,373.95 L308.50,375.00 L309.00,375.88 L309.50,376.60 L310.00,377.18 L310.50,377.64 L311.00,378.00 L311.50,378.27 L312.00,378.48 L312.50,378.63" fill="none" stroke="#1d4f87" stroke-width="1.6" stroke-linejoin="round"/>
<path d="M272.50,395.80 L273.00,395.80 L273.50,395.80 L274.00,395.80 L274.50,395.80 L275.00,395.80 L275.50,395.80 L276.00,395.80 L276.50,395.80 L277.00,395.80 L277.50,395.80 L278.00,395.80 L278.50,395.80 L279.00,395.80 L279.50,395.79 L280.00,395.79 L280.50,395.79 L281.00,395.78 L281.50,395.77 L282.00,395.76 L282.50,395.75 L283.00,395.73 L283.50,395.71 L284.00,395.67 L284.50,395.63 L285.00,395.57 L285.50,395.50 L286.00,395.40 L286.50,395.28 L287.00,395.13 L287.50,394.94 L288.00,394.71 L288.50,394.43 L289.00,394.08 L289.50,393.67 L290.00,393.18 L290.50,392.60 L291.00,391.92 L291.50,391.15 L292.00,390.26 L292.50,389.26 L293.00,388.14 L293.50,386.90 L294.00,385.55 L294.50,384.09 L295.00,382.54 L295.50,380.90 L296.00,379.20 L296.50,377.45 L297.00,375.69 L297.50,373.93 L298.00,372.23 L298.50,370.59 L299.00,369.07 L299.50,367.69 L300.00,366.48 L300.50,365.47 L301.00,364.68 L301.50,364.14 L302.00,363.85 L302.50,363.86 L303.00,364.47 L303.50,365.73 L304.00,367.56 L304.50,369.84 L305.00,372.45 L305.50,375.25 L306.00,378.10 L306.50,380.88 L307.00,383.49 L307.50,385.86 L308.00,387.95 L308.50,389.73 L309.00,391.21 L309.50,392.40 L310.00,393.34 L310.50,394.05 L311.00,394.59 L311.50,394.98 L312.00,395.25 L312.50,395.44 L313.00,395.57 L313.50,395.66 L314.00,395.71 L314.50,395.75 L315.00,395.77 L315.50,395.78 L316.00,395.79 L316.50,395.79 L317.00,395.80 L317.50,395.80 L318.00,395.80 L318.50,395.80 L319.00,395.80 L319.50,395.80 L320.00,395.80 L320.50,395.80 L321.00,395.80 L321.50,395.80 L322.00,395.80 L322.50,395.80 L323.00,395.80 L323.50,395.80 L324.00,395.80 L324.50,395.80 L325.00,395.80 L325.50,395.80 L326.00,395.80 L326.50,395.80 L327.00,395.80 L327.50,395.80 L328.00,395.80 L328.50,395.80 L329.00,395.80 L329.50,395.80 L330.00,395.80 L330.50,395.80 L331.00,395.80 L331.50,395.80 L332.00,395.80 L332.50,395.80 L333.00,395.80 L333.50,395.80 L334.00,395.80 L334.50,395.80 L335.00,395.80 L335.50,395.80 L336.00,395.80 L336.50,395.80 L337.00,395.80 L337.50,395.80 L338.00,395.80 L338.50,395.80 L339.00,395.80 L339.50,395.80 L340.00,395.80 L340.50,395.80 L341.00,395.80 L341.50,395.80 L342.00,395.80 L342.50,395.80 L343.00,395.80 L343.50,395.80 L344.00,395.80 L344.50,395.80 L345.00,395.80 L345.50,395.80 L346.00,395.80 L346.50,395.80 L347.00,395.80 L347.50,395.80 L348.00,395.80 L348.50,395.80 L349.00,395.80 L349.50,395.80 L350.00,395.80 L350.50,395.80 L351.00,395.80 L351.50,395.80 L352.00,395.80 L352.50,395.80 L353.00,395.80 L353.50,395.80 L354.00,395.80 L354.50,395.80 L355.00,395.80 L355.50,395.80 L356.00,395.80 L356.50,395.80 L357.00,395.80 L357.50,395.80" fill="none" stroke="#e0808e" stroke-width="1.3"/>
<path d="M286.00,395.40 L286.50,395.28 L287.00,395.13 L287.50,394.94 L288.00,394.71 L288.50,394.43 L289.00,394.08 L289.50,393.67 L290.00,393.18 L290.50,392.60 L291.00,391.92 L291.50,391.15 L292.00,390.26 L292.50,389.26 L293.00,388.14 L293.50,386.90 L294.00,385.55 L294.50,384.09 L295.00,382.54 L295.50,380.90 L296.00,379.20 L296.50,377.45 L297.00,375.69 L297.50,373.93 L298.00,372.23 L298.50,370.59 L299.00,369.07 L299.50,367.69 L300.00,366.48 L300.50,365.47 L301.00,364.68 L301.50,364.14 L302.00,363.85 L302.50,363.86 L303.00,364.47 L303.50,365.73 L304.00,367.56 L304.50,369.84 L305.00,372.45 L305.50,375.25 L306.00,378.10 L306.50,380.88 L307.00,383.49 L307.50,385.86 L308.00,387.95 L308.50,389.73 L309.00,391.21 L309.50,392.40 L310.00,393.34 L310.50,394.05 L311.00,394.59 L311.50,394.98 L312.00,395.25 L312.50,395.44" fill="none" stroke="#c8102e" stroke-width="1.6" stroke-linejoin="round"/>
<path d="M273.00,424.80 C273.07,425.37 273.03,427.72 273.40,428.20 C273.77,428.68 274.32,428.18 275.20,427.70 C276.08,427.22 277.70,426.57 278.70,425.30 C279.70,424.03 280.35,421.98 281.20,420.10 C282.05,418.22 282.93,416.02 283.80,414.00 C284.67,411.98 285.60,410.02 286.40,408.00 C287.20,405.98 288.02,403.17 288.60,401.90 C289.18,400.63 289.32,400.47 289.90,400.40 C290.48,400.33 291.30,400.67 292.10,401.50 C292.90,402.33 294.05,403.97 294.70,405.40 C295.35,406.83 295.58,408.73 296.00,410.10 C296.42,411.47 296.70,412.37 297.20,413.60 C297.70,414.83 298.42,415.98 299.00,417.50 C299.58,419.02 300.05,421.48 300.70,422.70 C301.35,423.92 301.97,424.08 302.90,424.80 C303.83,425.52 305.30,426.35 306.30,427.00 C307.30,427.65 308.47,428.42 308.90,428.70" fill="none" stroke="#2f3a4d" stroke-width="1.5" stroke-linejoin="round"/>
<path d="M272.5,412.7 L278.5,412.6 M299.4,412.6 L357.7,412.7" fill="none" stroke="#9ad5a0" stroke-width="1.3"/>
<path d="M278.50,412.50 C278.80,411.97 279.77,411.18 280.30,409.30 C280.83,407.42 281.32,404.07 281.70,401.20 C282.08,398.33 282.30,394.82 282.60,392.10 C282.90,389.38 283.15,386.78 283.50,384.90 C283.85,383.02 284.32,380.95 284.70,380.80 C285.08,380.65 285.47,382.42 285.80,384.00 C286.13,385.58 286.40,388.05 286.70,390.30 C287.00,392.55 287.30,395.23 287.60,397.50 C287.90,399.77 288.12,402.15 288.50,403.90 C288.88,405.65 289.30,406.87 289.90,408.00 C290.50,409.13 291.12,410.03 292.10,410.70 C293.08,411.37 294.58,411.68 295.80,412.00 C297.02,412.32 298.80,412.50 299.40,412.60" fill="none" stroke="#2eab3e" stroke-width="1.6" stroke-linejoin="round"/>
<rect x="272.5" y="259.1" width="85.2" height="85.2" fill="none" stroke="#222" stroke-width="1.3"/>
<rect x="272.5" y="344.3" width="85.2" height="84.6" fill="none" stroke="#222" stroke-width="1.3"/>
<line x1="278.4" y1="428.6" x2="278.4" y2="431.5" stroke="#333" stroke-width="0.9"/>
<line x1="284.0" y1="428.6" x2="284.0" y2="431.5" stroke="#333" stroke-width="0.9"/>
<line x1="289.4" y1="428.6" x2="289.4" y2="431.5" stroke="#333" stroke-width="0.9"/>
<line x1="310.3" y1="428.6" x2="310.3" y2="431.5" stroke="#333" stroke-width="0.9"/>
<line x1="331.2" y1="428.6" x2="331.2" y2="431.5" stroke="#333" stroke-width="0.9"/>
<line x1="350.2" y1="428.6" x2="350.2" y2="431.5" stroke="#333" stroke-width="0.9"/>
<text x="284.0" y="439.7" font-size="7.4" text-anchor="middle" fill="#262626">0</text>
<text x="305.0" y="439.8" font-size="7.4" fill="#262626">10<tspan font-size="4.4" dy="-2.8">3</tspan></text>
<text x="325.8" y="439.8" font-size="7.4" fill="#262626">10<tspan font-size="4.4" dy="-2.8">4</tspan></text>
<text x="344.8" y="439.8" font-size="7.4" fill="#262626">10<tspan font-size="4.4" dy="-2.8">5</tspan></text>
<text x="222.9" y="444.4" font-size="7.4" fill="#262626" textLength="24.5" lengthAdjust="spacingAndGlyphs">E&#956;-<tspan font-style="italic">Myc</tspan></text>
<text x="279.6" y="451.8" font-size="7.8" text-anchor="start" fill="#262626" textLength="28.1" lengthAdjust="spacingAndGlyphs">mCherry</text>
<line x1="311.6" y1="449.6" x2="344" y2="449.6" stroke="#444" stroke-width="1.35"/>
<path d="M348.2,449.6 L341.2,446.9 L342.6,449.6 L341.2,452.3 Z" fill="#222"/>
<line x1="360.4" y1="269.0" x2="372.3" y2="269.0" stroke="#6590c2" stroke-width="1.15"/>
<text x="374.7" y="271.6" font-size="7.6" fill="#262626"><tspan font-style="italic">Tfap4</tspan><tspan font-size="4.3" dy="-2.8">mC/+</tspan><tspan dy="2.8"> 357</tspan></text>
<line x1="360.4" y1="279.2" x2="372.3" y2="279.2" stroke="#d94a5c" stroke-width="1.15"/>
<text x="374.7" y="281.8" font-size="7.6" fill="#262626"><tspan font-style="italic">Tfap4</tspan><tspan font-size="4.3" dy="-2.8">mC/+</tspan><tspan dy="2.8"> 352</tspan></text>
<line x1="360.4" y1="289.3" x2="372.3" y2="289.3" stroke="#3a9f52" stroke-width="1.15"/>
<text x="374.7" y="291.90000000000003" font-size="7.6" fill="#262626"><tspan font-style="italic">Tfap4</tspan><tspan font-size="4.3" dy="-2.8">mC/&#8211;</tspan><tspan dy="2.8"> 356</tspan></text>
<line x1="360.4" y1="299.6" x2="372.3" y2="299.6" stroke="#4f5a6c" stroke-width="1.15"/>
<text x="374.7" y="302.20000000000005" font-size="7.6" fill="#262626"><tspan font-style="italic">Tfap4</tspan><tspan font-size="4.3" dy="-2.8">+/+</tspan><tspan dy="2.8"> 350</tspan></text>
<line x1="360.4" y1="354.4" x2="372.3" y2="354.4" stroke="#6590c2" stroke-width="1.15"/>
<text x="374.7" y="357.0" font-size="7.6" fill="#262626" textLength="65.2" lengthAdjust="spacingAndGlyphs"><tspan font-style="italic">Tfap4</tspan><tspan font-size="4.3" dy="-2.8">mC/+</tspan><tspan dy="2.8"> B220</tspan><tspan font-size="4.3" dy="-2.8">+</tspan><tspan dy="2.8"> 357</tspan></text>
<line x1="360.4" y1="364.8" x2="372.3" y2="364.8" stroke="#d94a5c" stroke-width="1.15"/>
<text x="374.7" y="367.40000000000003" font-size="7.6" fill="#262626" textLength="63.3" lengthAdjust="spacingAndGlyphs"><tspan font-style="italic">Tfap4</tspan><tspan font-size="4.3" dy="-2.8">mC/&#8211;</tspan><tspan dy="2.8"> B220</tspan><tspan font-size="4.3" dy="-2.8">+</tspan><tspan dy="2.8">352</tspan></text>
<line x1="360.4" y1="375.4" x2="372.3" y2="375.4" stroke="#3a9f52" stroke-width="1.15"/>
<text x="374.7" y="378.0" font-size="7.6" fill="#262626" textLength="86.5" lengthAdjust="spacingAndGlyphs"><tspan font-style="italic">Tfap4</tspan><tspan font-size="4.3" dy="-2.8">mC/&#8211;</tspan><tspan dy="2.8"> B220</tspan><tspan font-size="4.3" dy="-2.8">+</tspan><tspan dy="2.8"> (LOH) 356</tspan></text>
<line x1="360.4" y1="386.0" x2="372.3" y2="386.0" stroke="#4f5a6c" stroke-width="1.15"/>
<text x="374.7" y="388.6" font-size="7.6" fill="#262626" textLength="70.6" lengthAdjust="spacingAndGlyphs"><tspan font-style="italic">Tfap4</tspan><tspan font-size="4.3" dy="-2.8">mC/&#8211;</tspan><tspan dy="2.8"> CD11b</tspan><tspan font-size="4.3" dy="-2.8">+</tspan><tspan dy="2.8"> 356</tspan></text>
<rect x="0.6" y="0.6" width="518.8" height="462.8" fill="none" stroke="#231f20" stroke-width="1.3"/>
</svg>
</body></html>
